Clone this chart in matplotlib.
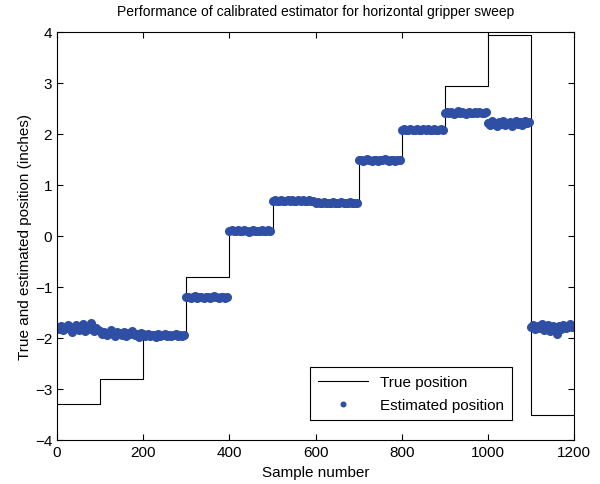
import numpy as np
import matplotlib.pyplot as plt

plt.rcParams['font.family'] = ['Liberation Sans', 'DejaVu Sans']

# true position: step levels, one per block of 100 samples
step_edges = [0, 100, 200, 300, 400, 500, 600, 700, 800, 900, 1000, 1100, 1200]
true_pos = [-3.30, -2.80, -2.00, -0.80, 0.10, 0.68, 0.68, 1.48, 2.05, 2.95, 3.95, -3.52]

# estimated position, read every 5 samples (20 readings per block)
est_blocks = [
    [-1.78, -1.82, -1.76, -1.85, -1.80, -1.74, -1.83, -1.88, -1.79, -1.75,
     -1.84, -1.81, -1.72, -1.86, -1.78, -1.83, -1.70, -1.87, -1.80, -1.84],
    [-1.86, -1.92, -1.88, -1.95, -1.90, -1.84, -1.93, -1.97, -1.89, -1.91,
     -1.94, -1.88, -1.96, -1.90, -1.93, -1.87, -1.95, -1.92, -1.98, -1.91],
    [-1.93, -1.96, -1.92, -1.97, -1.95, -1.94, -1.98, -1.93, -1.96, -1.95,
     -1.92, -1.97, -1.94, -1.96, -1.95, -1.93, -1.97, -1.94, -1.96, -1.95],
    [-1.20, -1.19, -1.21, -1.20, -1.18, -1.21, -1.20, -1.19, -1.22, -1.20,
     -1.19, -1.21, -1.20, -1.18, -1.20, -1.21, -1.19, -1.20, -1.21, -1.20],
    [0.10, 0.11, 0.09, 0.10, 0.12, 0.10, 0.09, 0.11, 0.10, 0.08,
     0.10, 0.11, 0.10, 0.09, 0.10, 0.12, 0.10, 0.09, 0.11, 0.10],
    [0.69, 0.70, 0.68, 0.69, 0.71, 0.69, 0.68, 0.70, 0.69, 0.70,
     0.68, 0.69, 0.70, 0.69, 0.71, 0.68, 0.69, 0.70, 0.69, 0.68],
    [0.65, 0.66, 0.64, 0.65, 0.66, 0.65, 0.64, 0.65, 0.66, 0.65,
     0.64, 0.65, 0.66, 0.65, 0.64, 0.65, 0.66, 0.65, 0.64, 0.65],
    [1.48, 1.49, 1.47, 1.48, 1.50, 1.48, 1.47, 1.49, 1.48, 1.47,
     1.49, 1.48, 1.50, 1.48, 1.47, 1.49, 1.48, 1.47, 1.49, 1.48],
    [2.08, 2.09, 2.07, 2.08, 2.10, 2.08, 2.07, 2.09, 2.08, 2.07,
     2.09, 2.08, 2.10, 2.08, 2.07, 2.09, 2.08, 2.07, 2.09, 2.08],
    [2.42, 2.44, 2.41, 2.43, 2.40, 2.42, 2.45, 2.41, 2.43, 2.42,
     2.40, 2.44, 2.42, 2.41, 2.43, 2.42, 2.44, 2.41, 2.42, 2.43],
    [2.22, 2.18, 2.25, 2.20, 2.15, 2.23, 2.19, 2.26, 2.17, 2.22,
     2.24, 2.16, 2.21, 2.25, 2.19, 2.23, 2.18, 2.26, 2.21, 2.24],
    [-1.78, -1.74, -1.82, -1.76, -1.80, -1.72, -1.84, -1.79, -1.75, -1.86,
     -1.77, -1.81, -1.92, -1.76, -1.83, -1.74, -1.80, -1.78, -1.72, -1.79],
]

est_pos = np.concatenate(est_blocks)
est_x = np.arange(len(est_pos)) * 5

fig = plt.figure(figsize=(6, 4.85), dpi=100)
ax = fig.add_axes([0.095, 0.091, 0.862, 0.841])

ax.step(step_edges, true_pos + [true_pos[-1]], where='post', color='black',
        lw=0.8, label='True position')
ax.plot(est_x, est_pos, 'o', color='#2f4fa5', ms=5.5, mec='#2f4fa5',
        label='Estimated position')

ax.set_xlim(0, 1200)
ax.set_ylim(-4, 4)
ax.set_xticks(range(0, 1201, 200))
ax.set_yticks(range(-4, 5))
ax.tick_params(direction='in', top=True, right=True, labelsize=11, length=4)
ax.tick_params(axis='x', pad=4)
for s in ax.spines.values():
    s.set_linewidth(0.8)

ax.set_title('Performance of calibrated estimator for horizontal gripper sweep',
             fontsize=10, pad=12)
ax.set_xlabel('Sample number', fontsize=11, labelpad=4)
ax.set_ylabel('True and estimated position (inches)', fontsize=11, labelpad=2)

leg = ax.legend(loc='lower right', bbox_to_anchor=(0.88, 0.049), fontsize=11,
                fancybox=False, edgecolor='black', framealpha=1,
                handlelength=3.3, markerscale=0.6, borderpad=0.5,
                labelspacing=0.6, borderaxespad=0)
leg.get_frame().set_linewidth(0.8)

fig.savefig('out.png', dpi=100)
